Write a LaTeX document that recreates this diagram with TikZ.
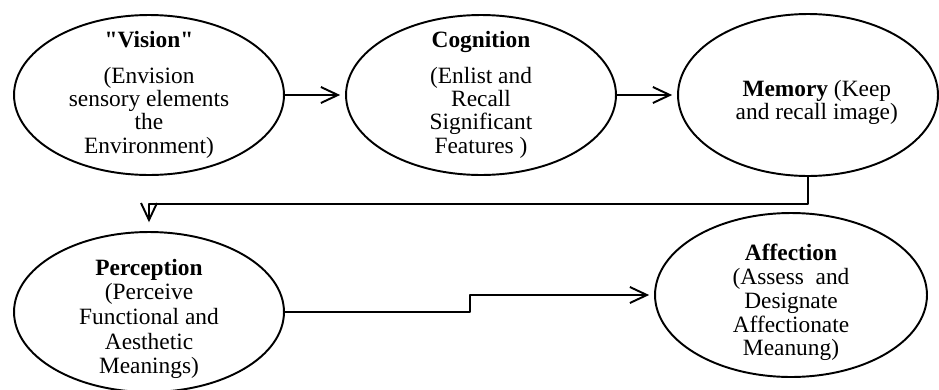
\documentclass[tikz,border=0pt]{standalone}
\usepackage{fontspec}
\setmainfont{Liberation Serif}[Ligatures=TeXOff]
\usetikzlibrary{shapes.geometric,arrows.meta}
\begin{document}
\begin{tikzpicture}[x=0.02cm,y=-0.02cm,>={Straight Barb[length=0.34cm,width=0.32cm]},line join=round,line width=1.1pt,font=\fontsize{13.3}{13.3}\selectfont,
    stage/.style={ellipse,draw,align=center,inner xsep=0pt,inner ysep=-0.4cm,minimum width=5.4cm,minimum height=3.2cm},
    link/.style={->,shorten >=2.8pt}]
    \useasboundingbox (0,0) rectangle (939,389);
    \node[stage] (vis) at (149,95) {\textbf{"Vision"}\\[6.8pt](Envision\\sensory elements\\the\\Environment)};
    \node[stage] (cog) at (481,95) {\textbf{Cognition}\\[6.8pt](Enlist and\\Recall\\Significant\\Features )};
    \node[stage,minimum width=5.2cm,minimum height=3.24cm] (mem) at (808,95) {\rule{0pt}{18pt}\hspace{10pt}\textbf{Memory} (Keep\\\hspace{10pt}and recall image)};
    \node[stage,font=\fontsize{13.3}{14}\selectfont] (per) at (149,312) {\rule{0pt}{17pt}\textbf{Perception}\\(Perceive\\Functional and\\Aesthetic\\Meanings)};
    \node[stage,minimum width=5.44cm,minimum height=3.28cm,font=\fontsize{13.3}{13.5}\selectfont] (aff) at (791,295) {\rule{0pt}{18pt}\textbf{Affection}\\(Assess~ and\\Designate\\Affectionate\\Meanung)};
    \draw[link] (vis) -- (cog);
    \draw[link] (cog) -- (mem);
    \draw[->,shorten >=5pt] (mem.south) -- ++(0,27) -| (per.north);
    \draw[link] (per.east) -- ++(185,0) |- (aff.west);
\end{tikzpicture}
\end{document}
